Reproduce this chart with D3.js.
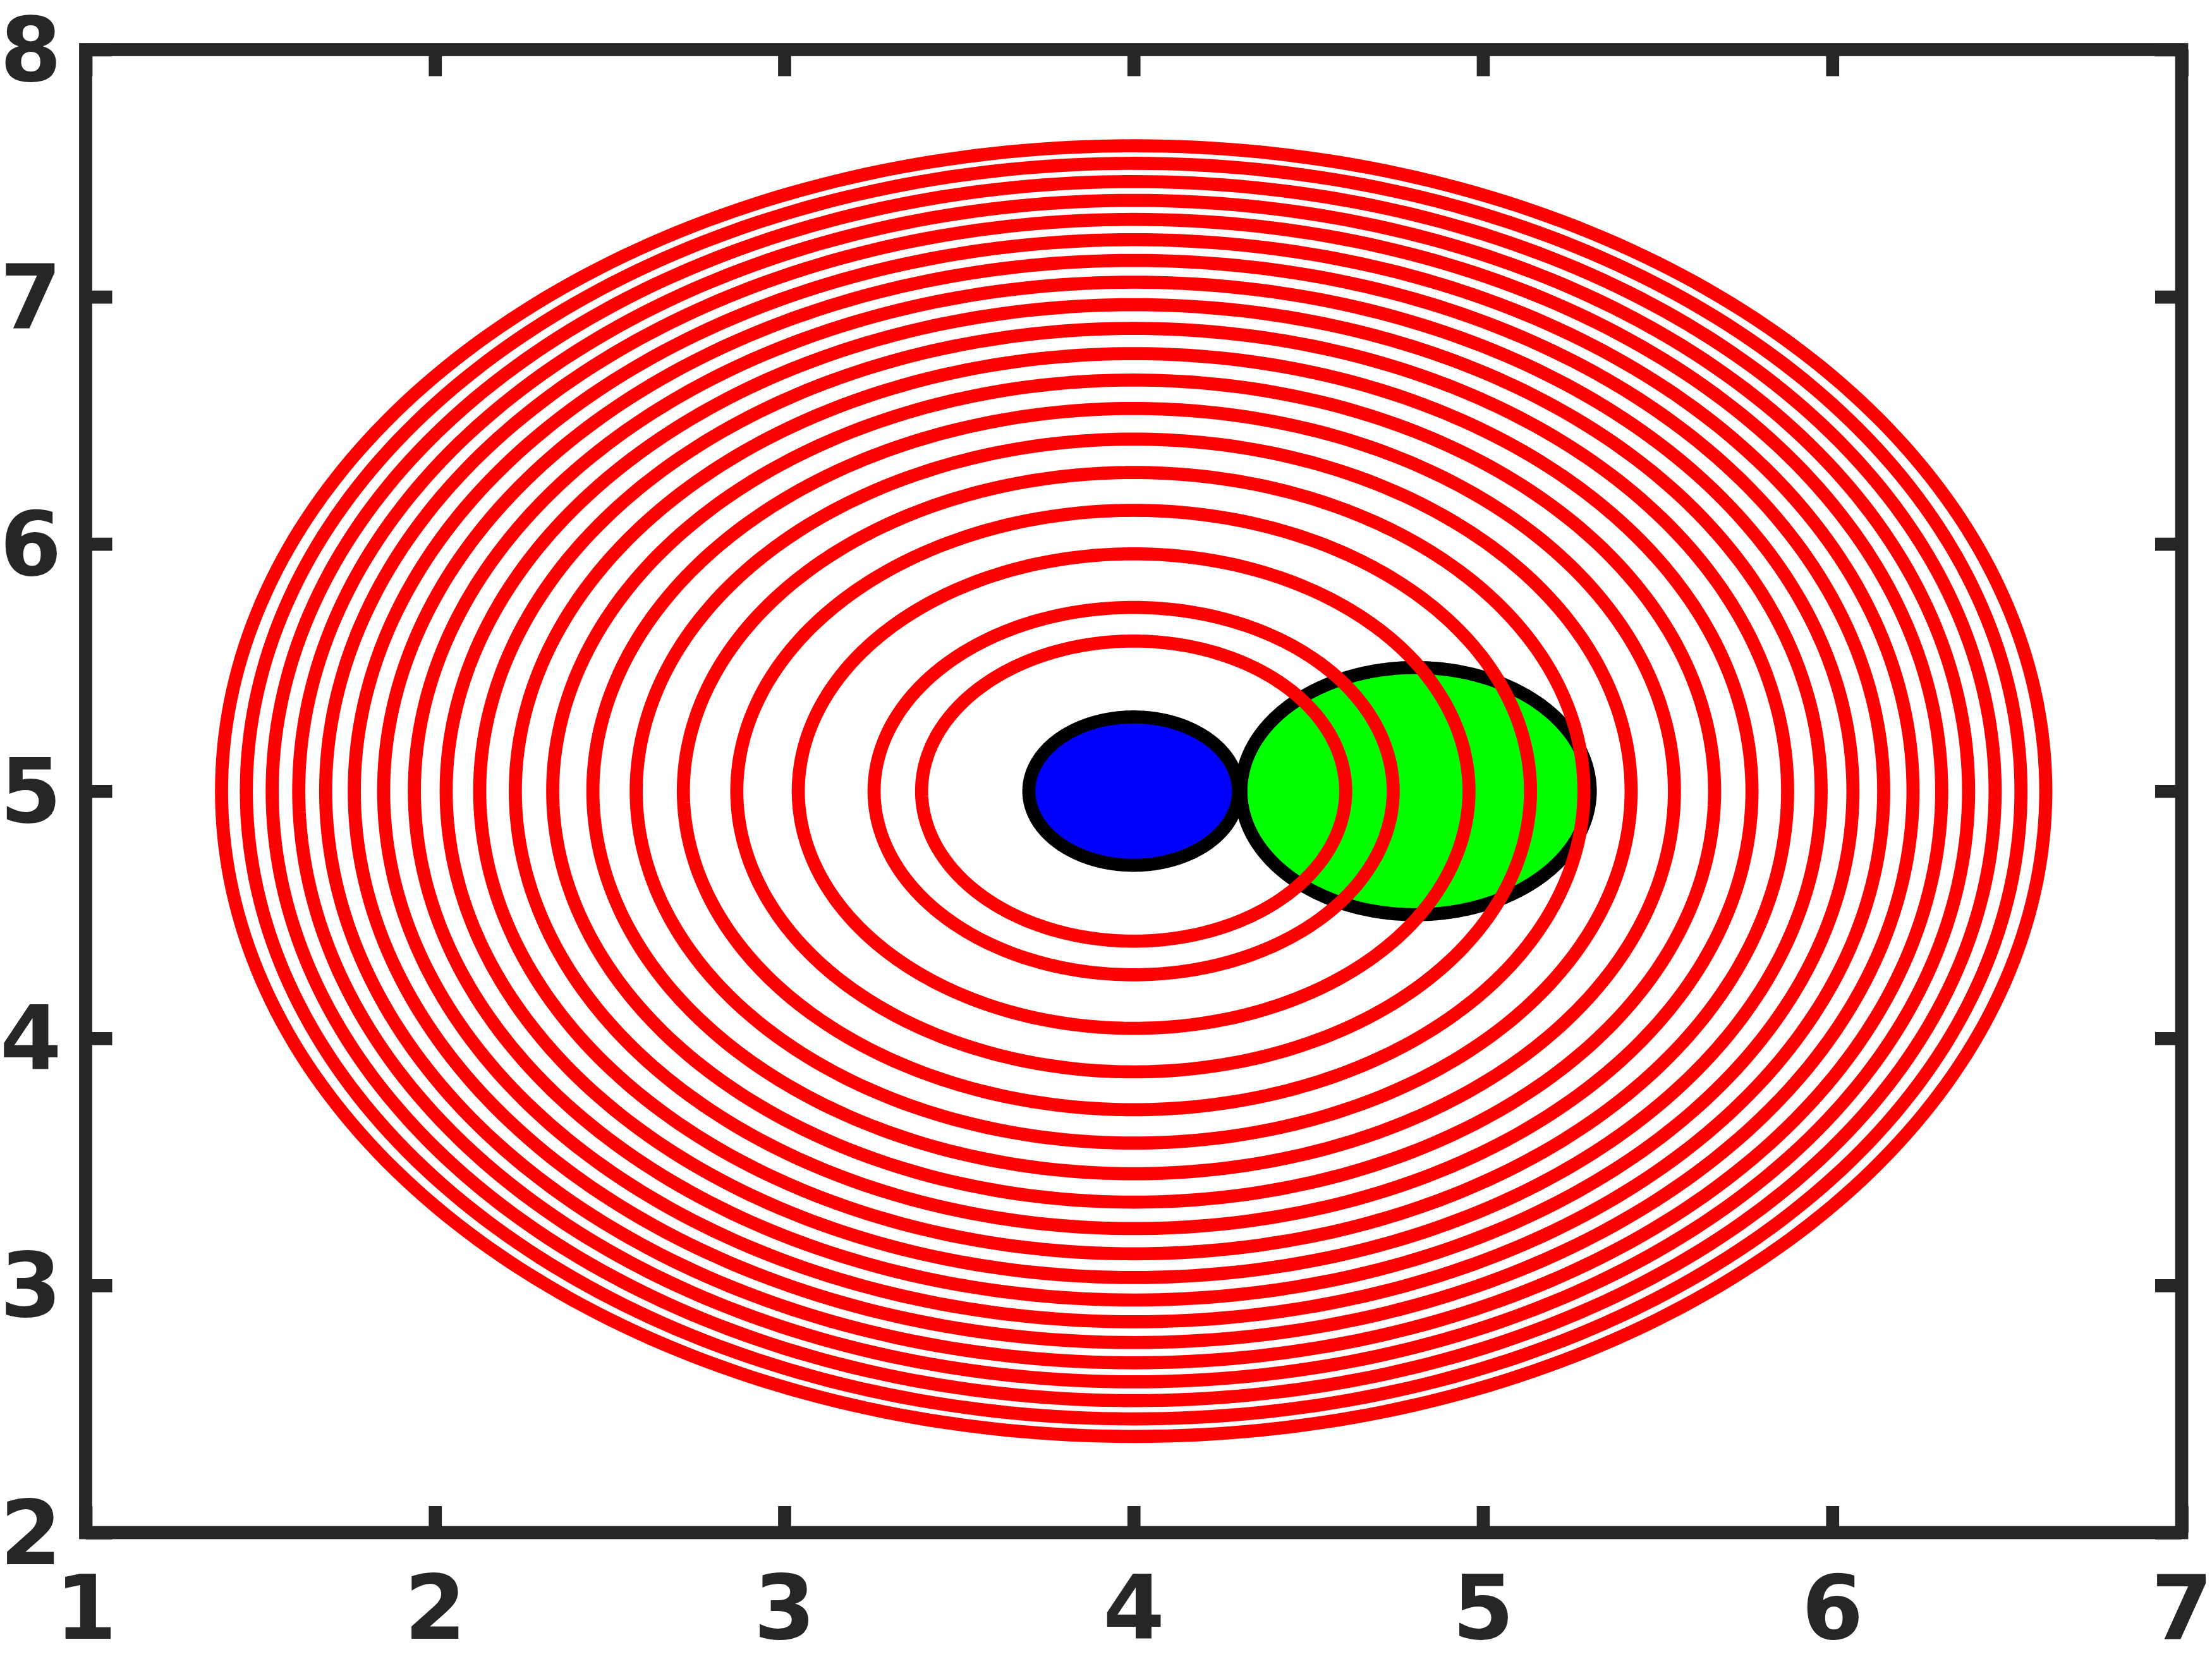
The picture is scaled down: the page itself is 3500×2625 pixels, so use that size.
<!DOCTYPE html>
<html>
<head>
<meta charset="utf-8">
<title>contours around a point</title>
<script src="https://d3js.org/d3.v7.min.js"></script>
<style>
  body { margin: 0; background: #fff; }
  svg { display: block; }
</style>
</head>
<body>
<div id="chart"></div>
<script>
// values (data units)
var xTicks = [1, 2, 3, 4, 5, 6, 7];
var yTicks = [2, 3, 4, 5, 6, 7, 8];
var center = [4, 5];
// radii of the red level curves, inner to outer
var redRadii = [0.607, 0.743, 0.960, 1.136, 1.289, 1.424, 1.548, 1.663, 1.770, 1.872,
                1.968, 2.059, 2.147, 2.231, 2.313, 2.390, 2.466, 2.540, 2.611];
// filled discs
var discCx = [4, 4.807];
var discCy = [5, 5];
var discR = [0.3, 0.5];
var discFill = ["#0000ff", "#00ff00"];

var W = 3500, H = 2625;
var axisColor = "#262626";
var lw = 20.7;

var svg = d3.select("#chart").append("svg")
    .attr("width", W).attr("height", H);

var x = d3.scaleLinear().domain([1, 7]).range([135.5, 3452]);
var y = d3.scaleLinear().domain([2, 8]).range([2425, 78.5]);

// a circle in data space, drawn through the scales
function circlePath(cx, cy, r) {
  var pts = d3.range(0, 360, 1).map(function(a) {
    var t = a * Math.PI / 180;
    return [x(cx + r * Math.cos(t)), y(cy + r * Math.sin(t))];
  });
  return d3.line().curve(d3.curveLinearClosed)(pts);
}

var plot = svg.append("g");

plot.selectAll("path.disc")
  .data(discR)
  .enter().append("path")
    .attr("class", "disc")
    .attr("d", function(r, i) { return circlePath(discCx[i], discCy[i], r); })
    .style("fill", function(r, i) { return discFill[i]; })
    .style("stroke", "#000")
    .style("stroke-width", lw);

plot.selectAll("path.level")
  .data(redRadii)
  .enter().append("path")
    .attr("class", "level")
    .attr("d", function(r) { return circlePath(center[0], center[1], r); })
    .style("fill", "none")
    .style("stroke", "#ff0000")
    .style("stroke-width", lw);

// axes, ticks pointing inward
var tickLen = 42;

function styleAxis(g) {
  g.select(".domain").remove();
  g.selectAll(".tick line")
    .style("stroke", axisColor)
    .style("stroke-width", lw);
}

svg.append("g")
    .attr("transform", "translate(0," + y(2) + ")")
    .call(d3.axisBottom(x).tickValues(xTicks).tickSize(-tickLen).tickFormat(d3.format("d")))
    .call(styleAxis)
    .call(function(g) {
      g.selectAll(".tick text")
        .attr("y", 168).attr("dy", 0);
    });

svg.append("g")
    .attr("transform", "translate(0," + y(8) + ")")
    .call(d3.axisTop(x).tickValues(xTicks).tickSize(-tickLen).tickFormat(""))
    .call(styleAxis);

svg.append("g")
    .attr("transform", "translate(" + x(1) + ",0)")
    .call(d3.axisLeft(y).tickValues(yTicks).tickSize(-tickLen).tickFormat(d3.format("d")))
    .call(styleAxis)
    .call(function(g) {
      g.selectAll(".tick text")
        .attr("x", -38).attr("dy", "0.35em");
    });

svg.append("g")
    .attr("transform", "translate(" + x(7) + ",0)")
    .call(d3.axisRight(y).tickValues(yTicks).tickSize(-tickLen).tickFormat(""))
    .call(styleAxis);

svg.selectAll(".tick text")
    .style("font-family", "'DejaVu Sans', sans-serif")
    .style("font-weight", "bold")
    .style("font-size", "140px")
    .style("fill", axisColor);

// box
svg.append("rect")
    .attr("x", x(1)).attr("y", y(8))
    .attr("width", x(7) - x(1)).attr("height", y(2) - y(8))
    .style("fill", "none")
    .style("stroke", axisColor)
    .style("stroke-width", lw)
    .style("stroke-linejoin", "miter");
</script>
</body>
</html>
